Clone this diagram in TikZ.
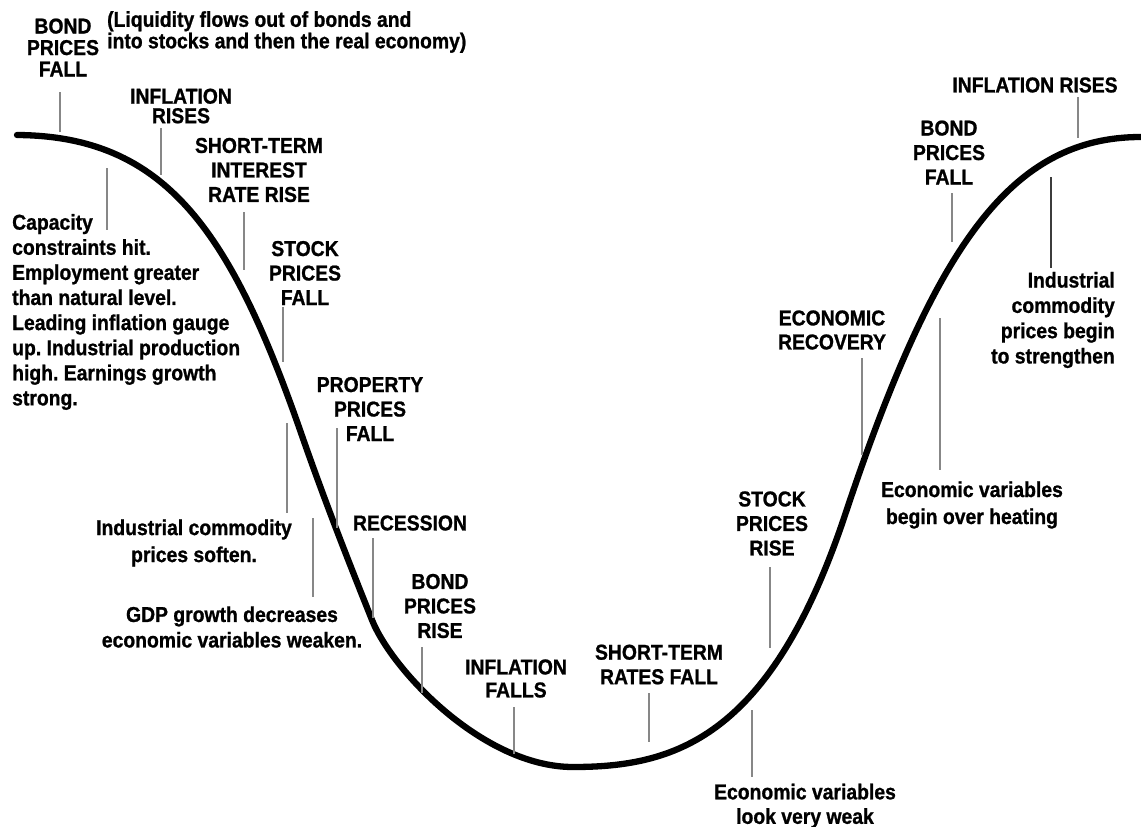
\documentclass[tikz,border=0pt]{standalone}
\usepackage{fontspec}
\setmainfont{Liberation Sans}[FakeStretch=0.9, BoldFeatures={FakeBold=1}]
\frenchspacing
\definecolor{tickgray}{RGB}{135,135,135}
\definecolor{tickdark}{RGB}{60,60,60}
\newcommand{\labfont}[1]{\fontsize{21.5}{#1}\selectfont\bfseries}
\begin{document}
\begin{tikzpicture}[x=1pt,y=-1pt,
  lab/.style={font=\labfont{24.5}, align=center, inner sep=0pt},
  labs/.style={font=\labfont{21.5}, align=center, inner sep=0pt},
  labw/.style={font=\labfont{27}, align=center, inner sep=0pt},
  tick/.style={draw=tickgray, line width=1.8pt},
  curve/.style={line width=6.3pt, line cap=round}]
\useasboundingbox[fill=white] (0,0) rectangle (1141,827);

% ---- curve ----
\coordinate (c0) at (17,135);
\coordinate (c1) at (300,430);
\coordinate (c2) at (372,620);
\coordinate (c3) at (573,767);
\coordinate (c4) at (845,515);
\coordinate (c5) at (1141,137);
\draw[curve] (c0) .. controls (165,136) and (230,230) .. (c1)
  .. controls (325,502) and (350,565) .. (c2)
  .. controls (392,670) and (483,767) .. (c3)
  .. controls (673,767) and (770,740) .. (c4)
  .. controls (935,245) and (1011,137) .. (c5);

% ---- labels ----
\node[labs] (bpf1) at (63,47.5) {BOND\\PRICES\\FALL};
\node[labs, align=left, anchor=west] (liq) at (107,32) {(Liquidity flows out of bonds and\\into stocks and then the real economy)};
\node[lab, font=\labfont{19.5}] (infr1) at (181,106) {INFLATION\\RISES};
\node[lab] (stir) at (259,170) {SHORT-TERM\\INTEREST\\RATE RISE};
\node[lab] (spf) at (305,273) {STOCK\\PRICES\\FALL};
\node[lab, align=left, anchor=west, font=\labfont{25.1}] (cap) at (12,312)
  {Capacity\\constraints hit.\\Employment greater\\than natural level.\\Leading inflation gauge\\up. Industrial production\\high. Earnings growth\\strong.};
\node[lab] (ppf) at (370,409) {PROPERTY\\PRICES\\FALL};
\node[lab] (rec) at (410,523) {RECESSION};
\node[labw] (icps) at (194,543) {Industrial commodity\\prices soften.};
\node[lab, font=\labfont{25.5}] (gdp) at (232,627) {GDP growth decreases\\economic variables weaken.};
\node[lab] (bpr) at (440,606) {BOND\\PRICES\\RISE};
\node[lab, font=\labfont{23}] (inff) at (516,678.5) {INFLATION\\FALLS};
\node[lab] (strf) at (659,664.5) {SHORT-TERM\\RATES FALL};
\node[lab] (evw) at (805,806) {Economic variables\\look very weak};
\node[lab] (spr) at (772,523.5) {STOCK\\PRICES\\RISE};
\node[lab, font=\labfont{24}] (ecr) at (832,330) {ECONOMIC\\RECOVERY};
\node[labw] (evo) at (972,505) {Economic variables\\begin over heating};
\node[lab, align=right, anchor=east, font=\labfont{25.3}] (icpb) at (1115,320)
  {Industrial\\commodity\\prices begin\\to strengthen};
\node[lab] (bpf2) at (949,152.5) {BOND\\PRICES\\FALL};
\node[lab] (infr2) at (1035,85) {INFLATION RISES};

% ---- ticks ----
\coordinate (a1) at (60,92);    \coordinate (b1) at (60,132);
\coordinate (a2) at (107,168);  \coordinate (b2) at (107,230);
\coordinate (a3) at (161,128);  \coordinate (b3) at (161,175);
\coordinate (a4) at (244,212);  \coordinate (b4) at (244,270);
\coordinate (a5) at (283,307);  \coordinate (b5) at (283,362);
\coordinate (a6) at (287,423);  \coordinate (b6) at (287,513);
\coordinate (a7) at (337,428);  \coordinate (b7) at (337,528);
\coordinate (a8) at (313,518);  \coordinate (b8) at (313,597);
\coordinate (a9) at (373,538);  \coordinate (b9) at (373,618);
\coordinate (a10) at (422,647); \coordinate (b10) at (422,693);
\coordinate (a11) at (514,707); \coordinate (b11) at (514,754);
\coordinate (a12) at (649,693); \coordinate (b12) at (649,742);
\coordinate (a13) at (752,710); \coordinate (b13) at (752,777);
\coordinate (a14) at (770,567); \coordinate (b14) at (770,648);
\coordinate (a15) at (862,358); \coordinate (b15) at (862,455);
\coordinate (a16) at (940,318); \coordinate (b16) at (940,470);
\coordinate (a17) at (1051,177);\coordinate (b17) at (1051,268);
\coordinate (a18) at (952,193); \coordinate (b18) at (952,242);
\coordinate (a19) at (1078,97); \coordinate (b19) at (1078,138);

\foreach \i in {1,...,16,18,19} {\draw[tick] (a\i) -- (b\i);}
\draw[tick, draw=tickdark, line width=1.4pt] (a17) -- (b17);
\end{tikzpicture}
\end{document}
